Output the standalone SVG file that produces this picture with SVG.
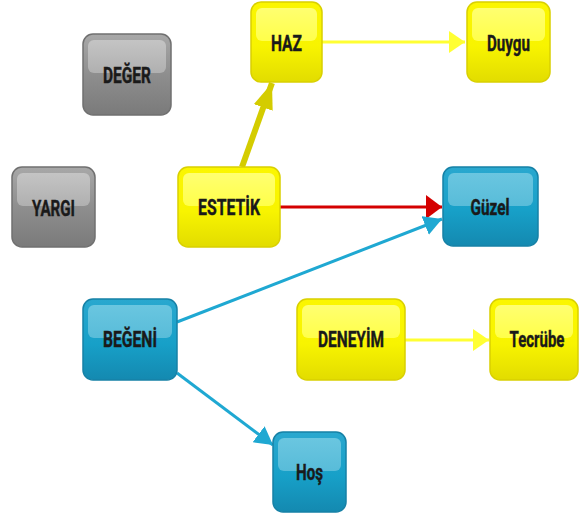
<svg xmlns="http://www.w3.org/2000/svg" width="579" height="515" viewBox="0 0 579 515">
<defs>
<style>
.lbl{font-family:"Roboto","Liberation Sans",sans-serif;font-weight:700;font-size:22px;fill:#1a1a1a;stroke:#1a1a1a;stroke-width:0.4;text-anchor:middle}
.gray .body{fill:url(#gGray);stroke:#707070;stroke-width:1.5}
.gray .hl{fill:url(#hGray)}
.yel .body{fill:url(#gYel);stroke:#d9d000;stroke-width:1.5}
.yel .hl{fill:url(#hYel)}
.blue .body{fill:url(#gBlue);stroke:#1681a6;stroke-width:1.5}
.blue .hl{fill:url(#hBlue)}
.c{fill:none}
</style>
<linearGradient id="gGray" x1="0" y1="0" x2="0" y2="1"><stop offset="0" stop-color="#a8a8a8"/><stop offset="0.5" stop-color="#8e8e8e"/><stop offset="1" stop-color="#7a7a7a"/></linearGradient>
<linearGradient id="hGray" x1="0" y1="0" x2="0" y2="1"><stop offset="0" stop-color="#c4c4c4"/><stop offset="1" stop-color="#b0b0b0"/></linearGradient>
<linearGradient id="gYel" x1="0" y1="0" x2="0" y2="1"><stop offset="0" stop-color="#fbf600"/><stop offset="0.55" stop-color="#f8f400"/><stop offset="1" stop-color="#e2dc00"/></linearGradient>
<linearGradient id="hYel" x1="0" y1="0" x2="0" y2="1"><stop offset="0" stop-color="#ffff70"/><stop offset="1" stop-color="#ffff4a"/></linearGradient>
<linearGradient id="gBlue" x1="0" y1="0" x2="0" y2="1"><stop offset="0" stop-color="#2aa8cf"/><stop offset="0.55" stop-color="#17a0c8"/><stop offset="1" stop-color="#1489b0"/></linearGradient>
<linearGradient id="hBlue" x1="0" y1="0" x2="0" y2="1"><stop offset="0" stop-color="#6ac6e0"/><stop offset="1" stop-color="#58bcd9"/></linearGradient>
<marker id="mYel" markerUnits="userSpaceOnUse" viewBox="0 0 16 22" refX="16" refY="11" markerWidth="16" markerHeight="22" orient="auto"><path d="M0,0 L16,11 L0,22 z" fill="#ffff33"/></marker>
<marker id="mRed" markerUnits="userSpaceOnUse" viewBox="0 0 16 24" refX="16" refY="12" markerWidth="16" markerHeight="24" orient="auto"><path d="M0,0 L16,12 L0,24 z" fill="#d40000"/></marker>
<marker id="mBlue" markerUnits="userSpaceOnUse" viewBox="0 0 18 20" refX="18" refY="10" markerWidth="18" markerHeight="20" orient="auto"><path d="M0,0 L18,10 L0,20 z" fill="#1fa8d2"/></marker>
<marker id="mOlive" markerUnits="userSpaceOnUse" viewBox="0 0 26 20" refX="26" refY="10" markerWidth="26" markerHeight="20" orient="auto"><path d="M0,0 L26,10 L0,20 z" fill="#d4cc00"/></marker>
</defs>
<rect width="579" height="515" fill="#ffffff"/>
<g id="connectors">
<line class="c" x1="322" y1="42" x2="465" y2="42" stroke="#ffff33" stroke-width="3" marker-end="url(#mYel)"/>
<line class="c" x1="242" y1="167" x2="272" y2="83" stroke="#d4cc00" stroke-width="6" marker-end="url(#mOlive)"/>
<line class="c" x1="280" y1="207" x2="442" y2="207" stroke="#d40000" stroke-width="3" marker-end="url(#mRed)"/>
<line class="c" x1="177" y1="322" x2="442" y2="219" stroke="#1fa8d2" stroke-width="3" marker-end="url(#mBlue)"/>
<line class="c" x1="177" y1="373" x2="273" y2="445" stroke="#1fa8d2" stroke-width="3" marker-end="url(#mBlue)"/>
<line class="c" x1="405" y1="340" x2="489" y2="340" stroke="#ffff33" stroke-width="3" marker-end="url(#mYel)"/>
</g>
<g id="deger" class="gray">
<rect class="body" x="83" y="34" width="88" height="81" rx="10"/>
<rect class="hl" x="88" y="40" width="78" height="33" rx="6"/>
<text class="lbl" x="127" y="83" textLength="48" lengthAdjust="spacingAndGlyphs">DEĞER</text>
</g>
<g id="yargi" class="gray">
<rect class="body" x="12" y="167" width="83" height="80" rx="10"/>
<rect class="hl" x="17" y="173" width="73" height="33" rx="6"/>
<text class="lbl" x="53.5" y="216" textLength="43" lengthAdjust="spacingAndGlyphs">YARGI</text>
</g>
<g id="haz" class="yel">
<rect class="body" x="251" y="2" width="71" height="80" rx="10"/>
<rect class="hl" x="256" y="8" width="61" height="33" rx="6"/>
<text class="lbl" x="286.5" y="51" textLength="31" lengthAdjust="spacingAndGlyphs">HAZ</text>
</g>
<g id="duygu" class="yel">
<rect class="body" x="467" y="2" width="83" height="80" rx="10"/>
<rect class="hl" x="472" y="8" width="73" height="33" rx="6"/>
<text class="lbl" x="508.5" y="51" textLength="43" lengthAdjust="spacingAndGlyphs">Duygu</text>
</g>
<g id="estetik" class="yel">
<rect class="body" x="178" y="167" width="102" height="80" rx="10"/>
<rect class="hl" x="183" y="173" width="92" height="33" rx="6"/>
<text class="lbl" x="229" y="215" textLength="62" lengthAdjust="spacingAndGlyphs">ESTETİK</text>
</g>
<g id="guzel" class="blue">
<rect class="body" x="443" y="167" width="95" height="79" rx="10"/>
<rect class="hl" x="448" y="173" width="85" height="33" rx="6"/>
<text class="lbl" x="490" y="215" textLength="39" lengthAdjust="spacingAndGlyphs">Güzel</text>
</g>
<g id="begeni" class="blue">
<rect class="body" x="83" y="299" width="94" height="81" rx="10"/>
<rect class="hl" x="88" y="305" width="84" height="33" rx="6"/>
<text class="lbl" x="130" y="347" textLength="54" lengthAdjust="spacingAndGlyphs">BEĞENİ</text>
</g>
<g id="hos" class="blue">
<rect class="body" x="273" y="432" width="73" height="80" rx="10"/>
<rect class="hl" x="278" y="438" width="63" height="33" rx="6"/>
<text class="lbl" x="309.5" y="480" textLength="27" lengthAdjust="spacingAndGlyphs">Hoş</text>
</g>
<g id="deneyim" class="yel">
<rect class="body" x="297" y="299" width="108" height="81" rx="10"/>
<rect class="hl" x="302" y="305" width="98" height="33" rx="6"/>
<text class="lbl" x="351" y="347" textLength="66" lengthAdjust="spacingAndGlyphs">DENEYİM</text>
</g>
<g id="tecrube" class="yel">
<rect class="body" x="490" y="299" width="88" height="81" rx="10"/>
<rect class="hl" x="495" y="305" width="78" height="33" rx="6"/>
<text class="lbl" transform="translate(537 347) scale(0.68 1)" x="0" y="0">Tecrübe</text>
</g>
</svg>
